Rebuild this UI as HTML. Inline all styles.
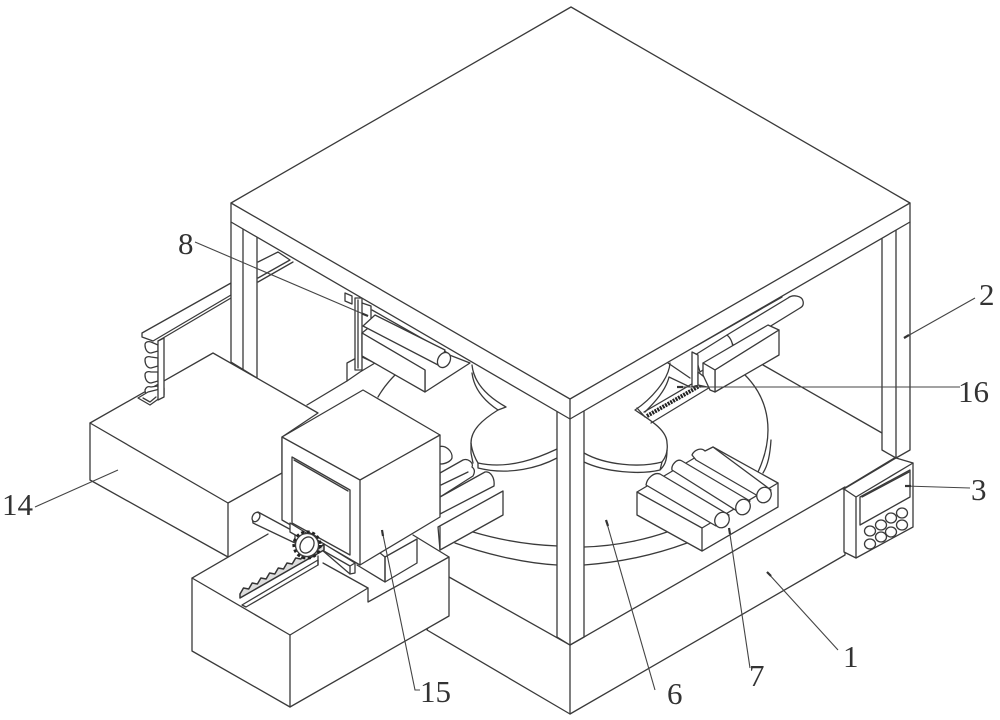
<!DOCTYPE html>
<html><head><meta charset="utf-8"><style>
html,body{margin:0;padding:0;background:#fff}
svg{display:block}
.s *{stroke:#3a3a3a;stroke-width:1.3;stroke-linejoin:round;stroke-linecap:round}
.f{fill:#fff}
.n{fill:none}
text{font-family:"Liberation Serif",serif;font-size:31px;fill:#333;stroke:none}
.l{stroke:#444;stroke-width:1.1;fill:none}
.t{stroke:#333;stroke-width:2.2;fill:none}
</style></head><body>
<svg width="1000" height="720" viewBox="0 0 1000 720" xmlns="http://www.w3.org/2000/svg">
<g class="s">
<!-- base -->
<path class="f" d="M427 630L570 714L845 555L845 487L584 637L570 645L449 577Z"/>
<path class="n" d="M570 645V714"/>
<!-- rear floor lines -->
<path class="n" d="M763 365L882 433"/>
<path class="n" d="M307 405L347 381"/>
<path class="n" d="M395 375C388 382 382 390 378 397"/>
<!-- back beam and rail -->
<path class="n" d="M258 262L278 252L290 260L258 278M258 282L293 262"/>
<path class="f" d="M142 333L231 283V295L153 341L142 337Z"/>
<path class="n" d="M158 341L231 298"/>
<!-- left pillar -->
<path class="f" d="M231 222V362L257 378V222Z"/>
<path class="n" d="M243 222V369"/>
<!-- disc -->
<path class="n" d="M473 532C500 540 530 545 558 546"/>
<path class="n" d="M455 543C480 552 520 563 557 565"/>
<path class="n" d="M584 547C620 546 650 538 667 532"/>
<path class="n" d="M584 565C625 562 660 553 687 543"/>
<path class="n" d="M745 375C770 400 775 435 758 472"/>
<path class="n" d="M771 440C770 455 768 465 763 473"/>
<!-- left machine -->
<path class="f" d="M347 363L360 356L375 363L360 372L347 381Z"/>
<path class="f" d="M355 298H362V370H355Z"/>
<path class="n" d="M358 300V368M362 303L371 306V318"/>
<path class="n" d="M345 293L352 296V304L345 301Z"/>
<path class="n" d="M372 310L446 352"/>
<path class="f" d="M362 333L372 325L470 363L425 392L425 370Z"/>
<path class="f" d="M362 333L425 370V392L362 356Z"/>
<path class="f" d="M375 315L445 350L440 366L363 326Z"/>
<ellipse class="f" cx="444" cy="360" rx="6" ry="8" transform="rotate(30 444 360)"/>
<!-- left leaf -->
<path class="f" d="M472 365C474 385 490 398 506 407L498 410C482 420 471 430 471 443V452L479 470C520 476 540 466 557 458V400Z" style="stroke:none"/>
<path class="n" d="M472 365C474 385 490 398 506 407L498 410C482 420 471 430 471 443C472 452 476 460 478 463C510 470 540 457 557 449"/>
<path class="n" d="M472 373C474 390 486 402 498 410"/>
<path class="n" d="M471 443V453L473 463M478 463V468C510 476 540 467 557 458"/>
<!-- right leaf -->
<path class="f" d="M584 420L670 363L696 350L708 382L650 422L667 443V458L660 470C630 476 605 472 584 462Z" style="stroke:none"/>
<path class="n" d="M670 363C669 380 650 400 635 410C650 420 667 430 667 443C668 450 666 457 662 462C640 468 605 465 584 453"/>
<path class="n" d="M584 462C605 472 640 475 660 470C664 466 667 462 667 450M662 462L660 470"/>
<path class="n" d="M669 377C666 390 655 402 645 412M669 377L690 387M668 363L690 378"/>
<!-- right rack -->
<path class="n" d="M637 408L645 417M651 423L712 386"/>
<path class="n" d="M644 412L702 378"/>
<path d="M647 416L708 381" fill="none" style="stroke:#222;stroke-width:4;stroke-dasharray:2 1;stroke-linecap:butt"/>
<!-- right machine -->
<path class="f" d="M727 335L788 298C793 294 802 296 803 301C804 305 802 307 800 308L735 348Z"/>
<path class="f" d="M695 355L727 335C733 340 733 347 733 350L700 372Z"/>
<path class="n" d="M696 346L782 297"/>
<path class="f" d="M692 352L698 355V385L692 387Z"/>
<path class="f" d="M698 372L708 380L712 388L698 385Z"/>
<path class="f" d="M703 363L768 325L779 330L715 370Z"/>
<path class="f" d="M715 370L779 330V355L715 392Z"/>
<path class="f" d="M703 363L715 370V392L710 390L703 375Z"/>
<!-- right pillar -->
<path class="f" d="M882 222V450L896 458L910 450V222Z"/>
<path class="n" d="M896 222V458"/>
<!-- front pillar -->
<path class="f" d="M557 411V637L570 645L584 637V411Z"/>
<path class="n" d="M570 419V645"/>
<!-- roof -->
<path class="f" d="M231 203L571 7L910 203V222L570 419L231 222Z"/>
<path class="n" d="M231 203L570 399L910 203M570 399V419"/>
<!-- roller set right -->
<path class="f" d="M637 492L713 447L778 483V507L702 551L637 515Z"/>
<path class="n" d="M637 492L702 528L778 483M702 528V551"/>
<g class="f">
<path d="M713 447L705 451C701 447 694 450 692 455L696 460L758 496L771 490Z"/>
<ellipse cx="764" cy="495" rx="7" ry="8" transform="rotate(30 764 495)"/>
<path d="M682 461C677 458 671 465 672 470L737 511L750 501Z"/>
<ellipse cx="743" cy="507" rx="7" ry="8" transform="rotate(30 743 507)"/>
<path d="M660 474C654 472 647 478 646 485L716 526L729 515Z"/>
<ellipse cx="722" cy="520" rx="7" ry="8" transform="rotate(30 722 520)"/>
</g>
<!-- box 14 -->
<path class="f" d="M90 423L213 353L318 413L282 437V473L228 503V557L90 480Z"/>
<path class="n" d="M90 423L228 503"/>
<!-- rail post over box 14 -->
<g class="f">
<path d="M145 345C145 342 148 341 151 342L158 345V351L151 353C147 353 145 349 145 345Z"/>
<path d="M145 360C145 357 148 356 151 357L158 358V366L151 368C147 368 145 364 145 360Z"/>
<path d="M145 375C145 372 148 371 151 372L158 372V381L151 383C147 383 145 379 145 375Z"/>
<path d="M145 390C146 387 148 386 151 387L158 386V395L150 397C147 396 145 394 145 390Z"/>
</g>
<path class="f" d="M138 398L148 392L164 388V395L150 405Z"/>
<path class="n" d="M143 398L150 402L156 397"/>
<path class="f" d="M158 341L164 338V397L158 400Z"/>
<!-- rollers behind box 15 -->
<path class="f" d="M438 447C446 444 453 452 452 458C451 461 446 464 440 464Z"/>
<path class="f" d="M440 473L463 460C468 458 474 463 472 467C476 470 474 474 473 476L440 497Z"/>
<path class="n" d="M441 485L468 472"/>
<path class="f" d="M440 497L485 472C490 471 495 477 494 486L440 514Z"/>
<path class="f" d="M438 527L503 491V515L440 550Z"/>
<path class="n" d="M440 527V550"/>
<!-- lower front box -->
<path class="f" d="M192 578L268 534L290 520L360 565L385 582L417 563L413 535L449 557V616L290 707L192 651Z" style="stroke:none"/>
<path class="n" d="M192 578L268 534"/>
<path class="n" d="M192 578L290 635L368 588V602L449 557V616L290 707L192 651Z"/>
<path class="n" d="M290 635V707"/>
<path class="n" d="M323 563L368 588"/>
<path class="n" d="M413 535L449 557"/>
<!-- pedestal -->
<path class="f" d="M385 557L417 539V563L385 582Z"/>
<path class="n" d="M357 565L385 582V557L380 553"/>
<!-- box 15 -->
<path class="f" d="M282 437L363 390L440 435V517L360 565L282 520Z"/>
<path class="n" d="M282 437L360 480L440 435M360 480V565"/>
<path class="n" d="M292 457L350 490V555L292 523Z"/>
<path class="n" d="M294 460L348 491"/>
<!-- pipe, bar and rack -->
<path class="f" d="M258 512L295 532V543L253 523C252 518 254 514 258 512Z"/>
<ellipse class="f" cx="256" cy="517" rx="3.500" ry="5" transform="rotate(30 256 517)"/>
<path class="f" d="M290 523L355 563V573L350 574L322 550L290 532Z"/>
<path class="n" d="M322 550L350 566L355 563M350 566V574"/>
<path d="M240 594L243.500 588L248.700 589L252.200 583L257.400 584L260.900 578L266.100 579L269.600 573L274.800 574L278.300 568L283.500 569L287 563L292.200 564L295.700 558L300.900 559L304.400 553L309.600 554L313.100 548L318.300 549L324 544V550L240 598Z" style="fill:#ddd;stroke:#333;stroke-width:1.5"/>
<path class="f" d="M242 605L318 560V565L246 607Z"/>
<path class="n" d="M318 556V565"/>
<circle cx="307" cy="545" r="13" class="n" style="stroke:#222;stroke-width:3.2;stroke-dasharray:3 2.500;stroke-linecap:butt"/>
<circle cx="307" cy="545" r="11.500" class="f"/>
<ellipse class="f" cx="307" cy="545" rx="6.500" ry="8.500" transform="rotate(30 307 545)"/>
<!-- controller -->
<path class="f" d="M844 489L896 458L913 463V527L856 558L844 552Z"/>
<path class="n" d="M844 489L856 497L913 463M856 497V558M843 489L896 457"/>
<path class="n" d="M860 497L910 470V497L860 525Z"/>
<path class="n" d="M862 497L909 472"/>
<g class="f">
<ellipse cx="870" cy="531" rx="5.500" ry="5"/><ellipse cx="881" cy="525" rx="5.500" ry="5"/><ellipse cx="891" cy="518" rx="5.500" ry="5"/><ellipse cx="902" cy="513" rx="5.500" ry="5"/>
<ellipse cx="870" cy="544" rx="5.500" ry="5"/><ellipse cx="881" cy="537" rx="5.500" ry="5"/><ellipse cx="891" cy="532" rx="5.500" ry="5"/><ellipse cx="902" cy="525" rx="5.500" ry="5"/>
</g>
</g>
<!-- leaders -->
<g>
<path class="l" d="M195 242L368 316"/>
<path class="t" d="M362 313.500L368 316"/>
<path class="l" d="M975 298L904 338"/>
<path class="t" d="M909 335L904 338"/>
<path class="l" d="M960 387L677 387"/>
<path class="t" d="M683 387H677"/>
<path class="l" d="M970 488L905 486"/>
<path class="t" d="M911 486H905"/>
<path class="l" d="M35 507L118 470"/>
<path class="l" d="M420 690L415 690L382 530"/>
<path class="t" d="M383 536L382 530"/>
<path class="l" d="M655 690L606 520"/>
<path class="t" d="M608 526L606 520"/>
<path class="l" d="M750 668L729 528"/>
<path class="t" d="M730 534L729 528"/>
<path class="l" d="M838 650L767 572"/>
<path class="t" d="M771 576L767 572"/>
</g>
<text x="178" y="254">8</text>
<text x="979" y="305">2</text>
<text x="958" y="402">16</text>
<text x="971" y="500">3</text>
<text x="2" y="515">14</text>
<text x="420" y="702">15</text>
<text x="667" y="704">6</text>
<text x="749" y="686">7</text>
<text x="843" y="667">1</text>
</svg>
</body></html>
